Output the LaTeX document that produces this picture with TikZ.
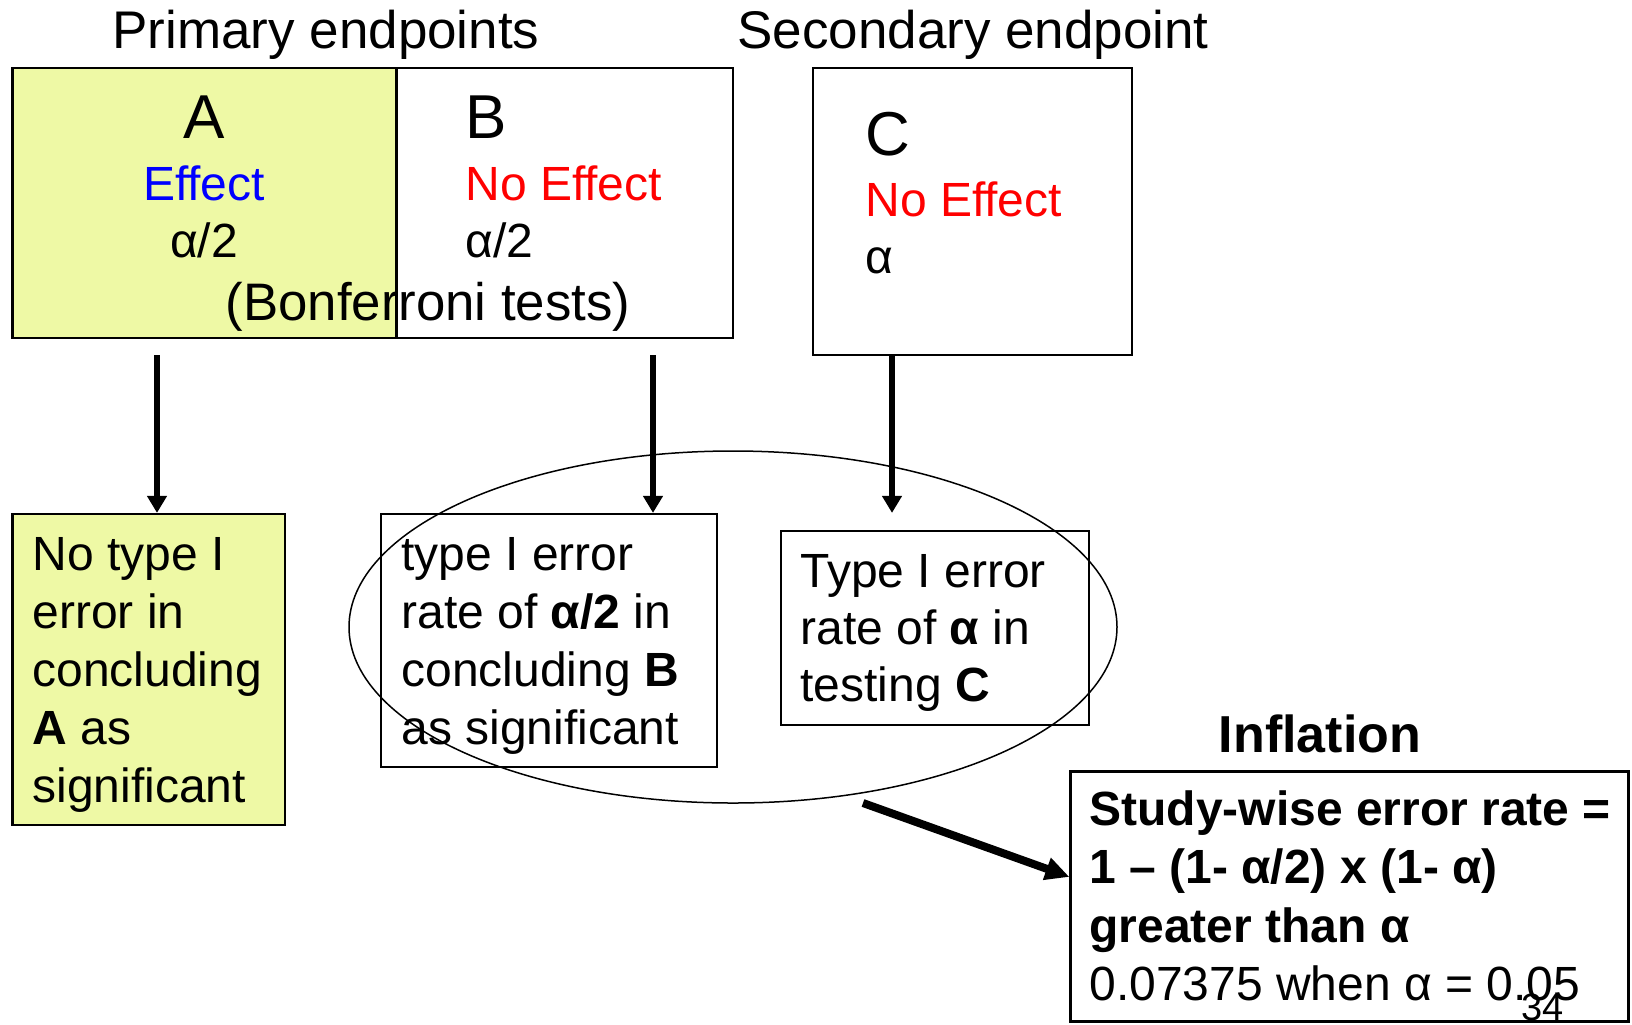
\documentclass[tikz,border=0pt]{standalone}
\usepackage{fontspec}
\setmainfont{Liberation Sans}
\usetikzlibrary{arrows.meta}
\usetikzlibrary{shapes.geometric}
\tikzset{box/.style = {draw, rectangle, inner sep = 0, line width = 1.1pt}}
\tikzset{hl/.style = {fill = lyellow}}
\tikzset{txt/.style = {inner sep = 0, anchor = base west, font = \fontsize{24}{29}\selectfont}}
\tikzset{ctxt/.style = {txt, anchor = base}}
\tikzset{bigletter/.style = {font = \fontsize{31}{31}\selectfont}}
\tikzset{arr/.style = {line width = 2.6pt, -{Triangle[length = 8.5pt, width = 9.5pt]}}}
\tikzset{bigarr/.style = {line width = 4pt, -{Triangle[length = 12pt, width = 11pt]}}}
\definecolor{lyellow}{RGB}{238, 249, 165}
\definecolor{effblue}{RGB}{0, 0, 255}
\definecolor{noeffred}{RGB}{255, 0, 0}

\begin{document}
\begin{tikzpicture}[x=0.5pt, y=-0.5pt]
  \useasboundingbox (0, 0) rectangle (1632, 1024);

  \node [ctxt, font=\fontsize{26.5}{30}\selectfont] (prim) at (326, 48) {Primary endpoints};
  \node [ctxt, font=\fontsize{26.5}{30}\selectfont] (sec) at (973, 48) {Secondary endpoint};

  % top row
  \node [box, hl, minimum width=192pt, minimum height=135pt] (A) at (204.5, 203) {};
  \node [box, minimum width=168pt, minimum height=135pt] (B) at (564.6, 203) {};
  \node [box, minimum width=159.5pt, minimum height=143.5pt] (C) at (972.5, 211.4) {};

  \node [ctxt, bigletter] (Aname) at (204, 138) {A};
  \node [ctxt, text=effblue] (Aeff) at (204, 200) {Effect};
  \node [ctxt] (Alev) at (204, 257) {α/2};
  \node [ctxt, font=\fontsize{26.4}{30}\selectfont] (bonf) at (428, 320) {(Bonferroni tests)};

  \node [txt, bigletter] (Bname) at (465, 138) {B};
  \node [txt, text=noeffred] (Beff) at (465, 200) {No Effect};
  \node [txt] (Blev) at (465, 257) {α/2};

  \node [txt, bigletter] (Cname) at (865, 155) {C};
  \node [txt, text=noeffred] (Ceff) at (865, 216) {No Effect};
  \node [txt] (Clev) at (865, 273) {α};

  % bottom row
  \node [box, hl, minimum width=136.25pt, minimum height=155.5pt] (A2) at (148.8, 669.5) {};
  \node [box, minimum width=168pt, minimum height=126.5pt] (B2) at (549, 640.5) {};
  \node [box, minimum width=154pt, minimum height=97pt] (C2) at (935, 628) {};
  \node [box, minimum width=279pt, minimum height=125pt] (D) at (1349.5, 896.5) {};

  \foreach \t [count=\i from 0] in {No type I, error in, concluding, {\textbf{A} as}, significant}
    \node [txt] (A2l\i) at (32, {570 + 58*\i}) {\t};
  \foreach \t [count=\i from 0] in {type I error, {rate of \textbf{α/2} in}, {concluding \textbf{B}}, as significant}
    \node [txt] (B2l\i) at (401, {570 + 58*\i}) {\t};
  \foreach \t [count=\i from 0] in {Type I error, {rate of \textbf{α} in}, {testing \textbf{C}}}
    \node [txt] (C2l\i) at (800, {587 + 57*\i}) {\t};

  \node [ctxt, font=\bfseries\fontsize{26}{30}\selectfont] (infl) at (1320, 752) {Inflation};
  \foreach \t [count=\i from 0] in {{\textbf{Study-wise error rate =}}, {\textbf{1 – (1- α/2) x (1- α)}}, {\textbf{greater than α}}, {0.07375 when α = 0.05}}
    \node [txt] (Dl\i) at (1089, {825 + 58.5*\i}) {\t};
  \node [txt, font=\fontsize{19}{19}\selectfont] (pg) at (1521, 1020) {34};

  % arrows
  \coordinate (tA) at (157, 355);
  \coordinate (tB) at (653, 355);
  \coordinate (tC) at (892, 355);
  \draw [arr] (tA) -- (tA |- A2.north);
  \draw [arr] (tB) -- (tB |- B2.north);
  \draw [arr] (tC) -- (tC |- B2.north);

  \node [draw, ellipse, line width=0.75pt, inner sep=0, minimum width=384pt, minimum height=176pt] (grp) at (733, 627) {};

  \coordinate (sD) at (863, 803);
  \draw [bigarr] (sD) -- (D.176.5);
\end{tikzpicture}
\end{document}
